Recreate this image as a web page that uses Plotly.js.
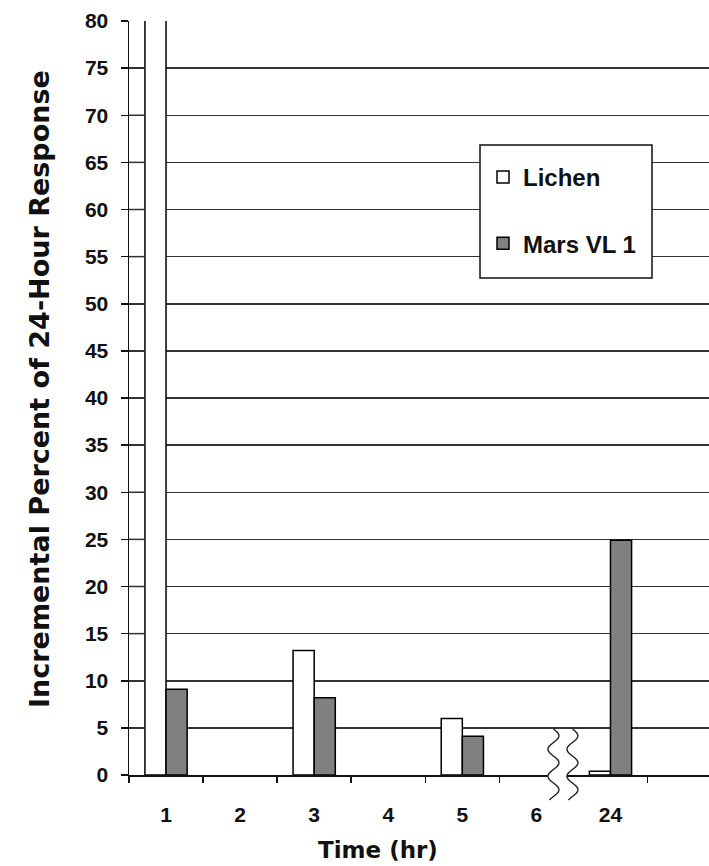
<!DOCTYPE html>
<html>
<head>
<meta charset="utf-8">
<script src="https://cdn.plot.ly/plotly-3.0.1.min.js"></script>
<style>
  html, body { margin: 0; padding: 0; background: #fff; }
  #chart { width: 709px; height: 866px; }
</style>
</head>
<body>
<div id="chart"></div>
<script>
// ---- data ----
const timeLabels = ['1', '2', '3', '4', '5', '6', '24'];
const lichen = [84, null, 13.2, null, 6.0, null, 0.4];
const marsVL1 = [9.1, null, 8.2, null, 4.1, null, 24.9];
const seriesNames = ['Lichen', 'Mars VL 1'];
const yTickVals = [0, 5, 10, 15, 20, 25, 30, 35, 40, 45, 50, 55, 60, 65, 70, 75, 80];
const yTitle = 'Incremental Percent of 24-Hour Response';
const xTitle = 'Time (hr)';

// category slots (one per time label) on a linear axis
const slots = timeLabels.map((_, i) => i);
const breakIdx = 5.5; // axis break between "6" and "24"
const boundaries = slots.map(i => i - 0.5).concat([slots.length - 0.5]).filter(b => b !== breakIdx);

// ---- layout geometry ----
const W = 709, H = 866;
const M = { l: 129, r: 0, t: 21, b: 91 };
const plotW = W - M.l - M.r, plotH = H - M.t - M.b;
const xRange = [-0.5, 7.33];
const yRange = [0, 80];
const bargap = 0.43;
const px2fx = px => (px - M.l) / plotW;
const py2fy = py => (H - M.b - py) / plotH;

const tickFont = { family: 'Liberation Sans, Arial, sans-serif', size: 21, color: '#111', weight: 'bold' };

const traces = [
  {
    type: 'bar', name: seriesNames[0], x: slots, y: lichen,
    marker: { color: '#ffffff', line: { color: '#000', width: 1.5 } },
    legendgroup: 'a', hoverinfo: 'y'
  },
  {
    type: 'bar', name: seriesNames[1], x: slots, y: marsVL1,
    marker: { color: '#808080', line: { color: '#000', width: 1.5 } },
    legendgroup: 'b', hoverinfo: 'y'
  }
];

// gridline segments between the y axis and the first bar (drawn on top so they always show)
const firstBarLeft = slots[0] - (1 - bargap) / 2;
const stripGrid = yTickVals.filter(v => v > yRange[0] && v < yRange[1]).map(v => ({
  type: 'line', xref: 'x', yref: 'y', x0: xRange[0], x1: firstBarLeft, y0: v, y1: v,
  line: { color: '#333', width: 1.5 }, layer: 'above'
}));

// axis-break decoration (two wavy lines)
const breakCenterPx = M.l + (breakIdx - xRange[0]) / (xRange[1] - xRange[0]) * plotW - 11;
function wave(cx, y0, y1, amp, period) {
  const pts = [];
  for (let y = y0; y <= y1; y += 1) {
    pts.push([cx + amp * Math.sin(2 * Math.PI * (y - y0) / period), y]);
  }
  return pts;
}
const leftPts = wave(breakCenterPx - 9, 729, 800, 5.5, 27);
const rightPts = wave(breakCenterPx + 10, 729, 800, 5.5, 27);
const toPath = pts => pts.map((p, i) => (i ? 'L' : 'M') + px2fx(p[0]).toFixed(5) + ',' + py2fy(p[1]).toFixed(5)).join(' ');
const bandL = leftPts.filter(p => p[1] >= 762 && p[1] <= 790);
const bandR = rightPts.filter(p => p[1] >= 762 && p[1] <= 790).reverse();
const bandPath = toPath(bandL.concat(bandR)) + ' Z';

const shapes = stripGrid.concat([
  { type: 'path', xref: 'paper', yref: 'paper', path: bandPath, fillcolor: '#fff', line: { width: 0 }, layer: 'above' },
  { type: 'path', xref: 'paper', yref: 'paper', path: toPath(leftPts), line: { color: '#222', width: 1.4 }, layer: 'above' },
  { type: 'path', xref: 'paper', yref: 'paper', path: toPath(rightPts), line: { color: '#222', width: 1.4 }, layer: 'above' },
  { type: 'rect', xref: 'paper', yref: 'paper', x0: px2fx(480), x1: px2fx(652), y0: py2fy(278), y1: py2fy(145),
    fillcolor: '#fff', line: { color: '#111', width: 1.5 }, layer: 'above' }
]);

const layout = {
  width: W, height: H,
  margin: M,
  paper_bgcolor: '#fff', plot_bgcolor: '#fff',
  barmode: 'group', bargap: bargap, bargroupgap: 0,
  showlegend: true,
  legend: {
    x: px2fx(483), y: py2fy(155), xanchor: 'left', yanchor: 'top',
    bgcolor: 'rgba(0,0,0,0)', borderwidth: 0,
    traceorder: 'grouped', tracegroupgap: 32,
    font: { family: 'Liberation Sans, Arial, sans-serif', size: 24, color: '#111', weight: 'bold' }
  },
  xaxis: {
    range: xRange,
    tickmode: 'array', tickvals: slots, ticktext: timeLabels,
    showgrid: false, zeroline: false,
    showline: true, linecolor: '#111', linewidth: 1.5,
    ticks: '', tickfont: tickFont, ticklabelstandoff: 20,
    minor: { tickmode: 'array', tickvals: boundaries, ticks: 'outside', ticklen: 6, tickwidth: 1.5, tickcolor: '#111', showgrid: false }
  },
  yaxis: {
    range: yRange, tickmode: 'array', tickvals: yTickVals,
    showgrid: true, gridcolor: '#333', gridwidth: 1.5,
    zeroline: false,
    showline: true, linecolor: '#111', linewidth: 1.5,
    ticks: 'outside', ticklen: 7, tickwidth: 1.5, tickcolor: '#111',
    tickfont: tickFont, ticklabelstandoff: 8
  },
  shapes: shapes,
  annotations: [
    { text: yTitle, xref: 'paper', yref: 'paper', x: px2fx(40), y: py2fy(389),
      xanchor: 'center', yanchor: 'middle', textangle: -90, showarrow: false,
      font: { family: 'DejaVu Sans, sans-serif', size: 27, color: '#111', weight: 'bold' } },
    { text: xTitle, xref: 'paper', yref: 'paper', x: px2fx(378), y: py2fy(850),
      xanchor: 'center', yanchor: 'middle', showarrow: false,
      font: { family: 'DejaVu Sans, sans-serif', size: 23, color: '#111', weight: 'bold' } }
  ]
};

Plotly.newPlot('chart', traces, layout, { displayModeBar: false, staticPlot: true });
</script>
</body>
</html>
